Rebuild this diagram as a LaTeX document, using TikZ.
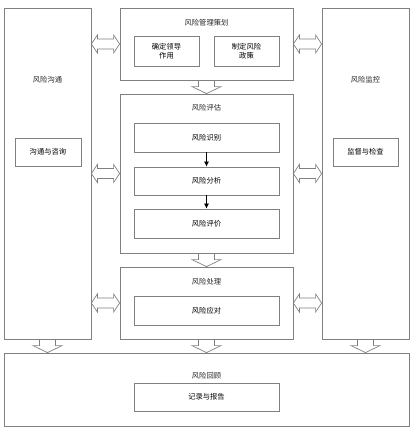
\documentclass[tikz,border=0pt]{standalone}
\usepackage{fontspec}
\setmainfont{Noto Sans CJK SC}
\usetikzlibrary{calc,arrows.meta}
\tikzset{
  box/.style={draw=linegray, line width=0.8pt, inner sep=0pt, font=\fontsize{7.3}{9.5}\selectfont, align=center},
  lbl/.style={inner sep=0pt, font=\fontsize{7.3}{9.5}\selectfont, text=black!85},
  blk/.style={draw=linegray, line width=0.7pt, line join=miter},
  flow/.style={draw=black, line width=0.7pt, -{Latex[length=5pt,width=5pt]}}
}
\definecolor{linegray}{RGB}{128,128,128}
\newcommand\dblarr[2]{\draw[blk] let \p1=(#1), \p2=(#2) in
  (\x1,\y1) -- (\x1+6pt,\y1+9pt) -- (\x1+6pt,\y1+5pt) -- (\x2-6pt,\y1+5pt) -- (\x2-6pt,\y1+9pt) -- (\x2,\y1)
  -- (\x2-6pt,\y1-9pt) -- (\x2-6pt,\y1-5pt) -- (\x1+6pt,\y1-5pt) -- (\x1+6pt,\y1-9pt) -- cycle;}
\newcommand\downarr[2]{\draw[blk] let \p1=(#1), \p2=(#2) in
  (\x1-8pt,\y1) -- (\x1-8pt,\y2+7pt) -- (\x1-14.5pt,\y2+7pt) -- (\x1,\y2) -- (\x1+14.5pt,\y2+7pt) -- (\x1+8pt,\y2+7pt) -- (\x1+8pt,\y1);}
\begin{document}
\begin{tikzpicture}[x=1pt,y=-1pt]
\useasboundingbox (0,0) rectangle (416,432);
% outer boxes
\node[box, minimum width=87pt, minimum height=331pt] (left) at (47.5,173.5) {};
\node[box, minimum width=87pt, minimum height=331pt] (right) at (365.5,173.5) {};
\node[box, minimum width=173pt, minimum height=72pt] (plan) at (206.5,44) {};
\node[box, minimum width=173pt, minimum height=159pt] (eval) at (206.5,173.5) {};
\node[box, minimum width=173pt, minimum height=72pt] (proc) at (206.5,303) {};
\node[box, minimum width=405pt, minimum height=73pt] (review) at (206.5,389.5) {};
% titles
\node[lbl] (tleft) at (47.5,80) {风险沟通};
\node[lbl] (tright) at (365.5,80) {风险监控};
\node[lbl] (tplan) at (206.5,23) {风险管理策划};
\node[lbl] (teval) at (206.5,108) {风险评估};
\node[lbl] (tproc) at (206.5,282) {风险处理};
\node[lbl] (treview) at (206.5,376) {风险回顾};
% inner boxes
\node[box, minimum width=65pt, minimum height=30pt] (lead) at (166.5,51) {确定领导\\作用};
\node[box, minimum width=65pt, minimum height=30pt] (policy) at (246.5,51) {制定风险\\政策};
\node[box, minimum width=145pt, minimum height=29pt] (ident) at (206.5,137.5) {风险识别};
\node[box, minimum width=145pt, minimum height=28pt] (anal) at (206.5,181) {风险分析};
\node[box, minimum width=145pt, minimum height=29pt] (evalu) at (206.5,223.5) {风险评价};
\node[box, minimum width=145pt, minimum height=29pt] (resp) at (206.5,310.5) {风险应对};
\node[box, minimum width=145pt, minimum height=28pt] (rec) at (206.5,397) {记录与报告};
\node[box, minimum width=66pt, minimum height=28pt] (comm) at (48,152) {沟通与咨询};
\node[box, minimum width=65pt, minimum height=28pt] (mon) at (365.5,152) {监督与检查};
% flow arrows
\draw[flow] (ident) -- (anal);
\draw[flow] (anal) -- (evalu);
% double arrows
\dblarr{left.east |- plan.center}{plan.west}
\dblarr{left.east |- eval.center}{eval.west}
\dblarr{left.east |- proc.center}{proc.west}
\dblarr{plan.east}{right.west |- plan.center}
\dblarr{eval.east}{right.west |- eval.center}
\dblarr{proc.east}{right.west |- proc.center}
% down arrows
\downarr{plan.south}{eval.north}
\downarr{eval.south}{proc.north}
\downarr{proc.south}{review.north}
\downarr{left.south}{left.south |- review.north}
\downarr{right.south}{right.south |- review.north}
\end{tikzpicture}
\end{document}
